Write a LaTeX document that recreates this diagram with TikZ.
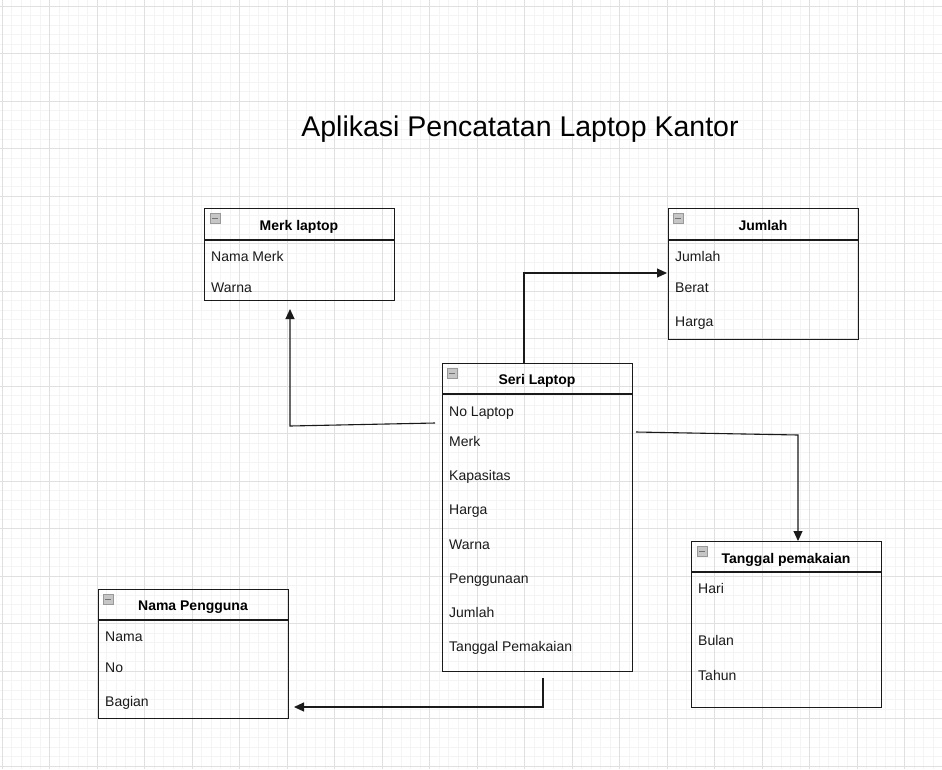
\documentclass[tikz,border=0pt]{standalone}
\usepackage{fontspec}
\setmainfont{Liberation Sans}
\usetikzlibrary{arrows.meta}
\definecolor{ink}{HTML}{1A1A1A}
\definecolor{gridminor}{HTML}{F4F4F4}
\definecolor{gridmajor}{HTML}{E0E0E0}
\begin{document}
\begin{tikzpicture}[x=1pt,y=-1pt,
  tbl/.style={draw=ink, line width=1.1pt, anchor=north west, inner sep=0pt, minimum width=190pt},
  hdr/.style={font=\fontsize{14}{16}\selectfont\bfseries, text=black, anchor=base, inner sep=0pt},
  row/.style={font=\fontsize{14}{16}\selectfont, text=ink, anchor=base west, inner sep=0pt},
  icon/.style={draw=gray!80, fill=gray!45, minimum width=10pt, minimum height=10pt, inner sep=0pt, line width=0.6pt, anchor=north west},
  conn/.style={draw=ink, line width=1.1pt, -{Triangle[length=10pt,width=9pt]}},
  minorline/.style={draw=gridminor, line width=0.6pt},
  majorline/.style={draw=gridmajor, line width=0.7pt}]
\useasboundingbox (0,0) rectangle (942,769);
\fill[white] (0,0) rectangle (942,769);
\begin{scope}
\clip (0,0) rectangle (942,769);
\foreach \i in {0,...,100} {\draw[minorline] ({2+9.5*\i},0) -- ({2+9.5*\i},769);}
\foreach \i in {0,...,82} {\draw[minorline] (0,{6+9.5*\i}) -- (942,{6+9.5*\i});}
\foreach \i in {0,...,20} {\draw[majorline] ({2+47.5*\i},0) -- ({2+47.5*\i},769);}
\foreach \i in {0,...,16} {\draw[majorline] (0,{6+47.5*\i}) -- (942,{6+47.5*\i});}
\end{scope}

% title
\node[font=\fontsize{28.5}{32}\selectfont, text=black, inner sep=0pt, anchor=base] (title) at (520,136) {Aplikasi Pencatatan Laptop Kantor};

% Merk laptop
\node[tbl, minimum height=92pt] (merk) at (204,208) {};
\draw[draw=ink, line width=1.1pt] (204,240) -- (394,240);
\node[icon] (merkicon) at (210,213) {};
\draw[gray!90!black, line width=1pt] (212,218) -- (218,218);
\node[hdr] (merkh) at (299,230) {Merk laptop};
\node[row] (merk1) at (211,261) {Nama Merk};
\node[row] (merk2) at (211,292) {Warna};

% Jumlah
\node[tbl, minimum height=131pt] (jml) at (668,208) {};
\draw[draw=ink, line width=1.1pt] (668,240) -- (858,240);
\node[icon] (jmlicon) at (673,213) {};
\draw[gray!90!black, line width=1pt] (675,218) -- (681,218);
\node[hdr] (jmlh) at (763,230) {Jumlah};
\node[row] (jml1) at (675,261) {Jumlah};
\node[row] (jml2) at (675,292) {Berat};
\node[row] (jml3) at (675,326) {Harga};

% Seri Laptop
\node[tbl, minimum height=308pt] (seri) at (442,363) {};
\draw[draw=ink, line width=1.1pt] (442,394) -- (632,394);
\node[icon] (seriicon) at (447,368) {};
\draw[gray!90!black, line width=1pt] (449,373) -- (455,373);
\node[hdr] (serih) at (537,384) {Seri Laptop};
\node[row] (seri1) at (449,416) {No Laptop};
\node[row] (seri2) at (449,446) {Merk};
\node[row] (seri3) at (449,480) {Kapasitas};
\node[row] (seri4) at (449,514) {Harga};
\node[row] (seri5) at (449,549) {Warna};
\node[row] (seri6) at (449,583) {Penggunaan};
\node[row] (seri7) at (449,617) {Jumlah};
\node[row] (seri8) at (449,651) {Tanggal Pemakaian};

% Tanggal pemakaian
\node[tbl, minimum height=166pt] (tgl) at (691,541) {};
\draw[draw=ink, line width=1.1pt] (691,572) -- (881,572);
\node[icon] (tglicon) at (697,546) {};
\draw[gray!90!black, line width=1pt] (699,551) -- (705,551);
\node[hdr] (tglh) at (786,563) {Tanggal pemakaian};
\node[row] (tgl1) at (698,593) {Hari};
\node[row] (tgl2) at (698,645) {Bulan};
\node[row] (tgl3) at (698,680) {Tahun};

% Nama Pengguna
\node[tbl, minimum height=129pt] (pgn) at (98,589) {};
\draw[draw=ink, line width=1.1pt] (98,620) -- (288,620);
\node[icon] (pgnicon) at (103,594) {};
\draw[gray!90!black, line width=1pt] (105,599) -- (111,599);
\node[hdr] (pgnh) at (193,610) {Nama Pengguna};
\node[row] (pgn1) at (105,641) {Nama};
\node[row] (pgn2) at (105,672) {No};
\node[row] (pgn3) at (105,706) {Bagian};

% connector anchors
\coordinate (c1s) at (435,423);
\coordinate (c1e) at (290,309);
\coordinate (c2s) at (524,363);
\coordinate (c2e) at (667,273);
\coordinate (c3s) at (636,432);
\coordinate (c3e) at (798,541);
\coordinate (c4s) at (543,678);
\coordinate (c4e) at (294,707);

\draw[conn] (c1s) -- (290,426) -- (c1e);
\draw[conn] (c2s) -- (524,273) -- (c2e);
\draw[conn] (c3s) -- (798,435) -- (c3e);
\draw[conn] (c4s) -- (543,707) -- (c4e);
\end{tikzpicture}
\end{document}
